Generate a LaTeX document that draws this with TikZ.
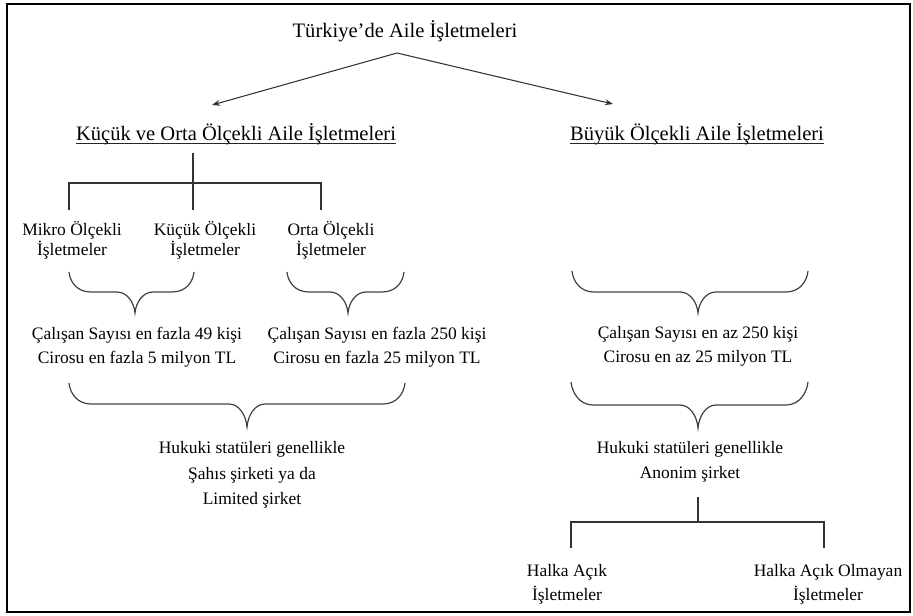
\documentclass[tikz,border=0pt]{standalone}
\usepackage{fontspec}
\setmainfont{LiberationSerif}[Extension=.ttf,UprightFont=*-Regular,BoldFont=*-Bold,ItalicFont=*-Italic,BoldItalicFont=*-BoldItalic]
\usetikzlibrary{arrows.meta}

\begin{document}
\begin{tikzpicture}[x=0.75pt,y=0.75pt,yscale=-1,xscale=1,
  ttl/.style={anchor=base,inner sep=0pt,font=\fontsize{15.4}{18}\selectfont},
  txt/.style={align=center,inner sep=0pt,font=\fontsize{13.1}{18}\selectfont},
  tight/.style={font=\fontsize{13.1}{15}\selectfont},
  loose/.style={font=\fontsize{13.1}{19}\selectfont},
  ln/.style={draw=black!80,line width=0.9pt},
  brc/.style={draw=black!75,line width=0.9pt},
  arr/.style={draw=black!80,line width=0.8pt,-{Stealth[length=6pt,width=4.5pt]}},
  ul/.style={draw=black!85,line width=1pt}]
\useasboundingbox (0,0) rectangle (913,615);

%Frame
\draw [line width=1.9pt] (7,4) rectangle (910,612);

% Text Node
\node[ttl] (title) at (405,37) {Türkiye’de Aile İşletmeleri};
% Text Node
\node[ttl] (hl) at (236,140) {Küçük ve Orta Ölçekli Aile İşletmeleri};
\draw[ul] ([yshift=2.4pt]hl.base west) -- ([yshift=2.4pt]hl.base east);
% Text Node
\node[ttl] (hr) at (697,140) {Büyük Ölçekli Aile İşletmeleri};
\draw[ul] ([yshift=2.4pt]hr.base west) -- ([yshift=2.4pt]hr.base east);

%Arrows
\coordinate (apex) at (397,53);
\coordinate (ltip) at (212,105);
\coordinate (rtip) at (613,104);
\draw[arr] (apex) -- (ltip);
\draw[arr] (apex) -- (rtip);

%Left tree
\coordinate (ltop) at (193,153);
\coordinate (lbar) at (193,183);
\coordinate (mdrop) at (69,210);
\coordinate (kdrop) at (193,210);
\coordinate (odrop) at (321,210);
\draw[ln] (ltop) -- (kdrop);
\draw[ln] (mdrop) |- (lbar) -| (odrop);

% Text Node
\node[txt,tight] (mikro) at (72,240) {Mikro Ölçekli\\İşletmeler};
\node[txt,tight] (kucuk) at (205,240) {Küçük Ölçekli\\İşletmeler};
\node[txt,tight] (orta) at (331,240) {Orta Ölçekli\\İşletmeler};

%Shape: Brace
\draw[brc] (69,272) .. controls (70,282) and (77,292) .. (91,292) -- (117,292) .. controls (127,292) and (134,302) .. (135,313) .. controls (136,302) and (143,292) .. (153,292) -- (172,292) .. controls (186,292) and (193,282) .. (194,272);
%Shape: Brace
\draw[brc] (287,272) .. controls (288,282) and (295,292) .. (309,292) -- (330,292) .. controls (340,292) and (347,302) .. (348,313) .. controls (349,302) and (356,292) .. (366,292) -- (382,292) .. controls (396,292) and (403,282) .. (404,272);

% Text Node
\node[txt] (ls1) at (137,347) {Çalışan Sayısı en fazla 49 kişi\\Cirosu en fazla 5 milyon TL};
\node[txt] (ls2) at (377,347) {Çalışan Sayısı en fazla 250 kişi\\Cirosu en fazla 25 milyon TL};

%Shape: Brace
\draw[brc] (69,383) .. controls (70,393) and (77,404) .. (91,404) -- (229,404) .. controls (239,404) and (246,415) .. (247,427) .. controls (248,415) and (255,404) .. (265,404) -- (383,404) .. controls (397,404) and (404,393) .. (405,383);

% Text Node
\node[txt,loose] (lhk) at (252,475) {Hukuki statüleri genellikle\\Şahıs şirketi ya da\\Limited şirket};

%Shape: Brace
\draw[brc] (572,271) .. controls (573,281) and (580,292) .. (594,292) -- (680,292) .. controls (690,292) and (697,302) .. (698,313) .. controls (699,302) and (706,292) .. (716,292) -- (786,292) .. controls (800,292) and (807,281) .. (808,271);

% Text Node
\node[txt] (rs) at (698,346) {Çalışan Sayısı en az 250 kişi\\Cirosu en az 25 milyon TL};

%Shape: Brace
\draw[brc] (571,382) .. controls (572,392) and (579,405) .. (593,405) -- (680,405) .. controls (690,405) and (697,416) .. (698,428) .. controls (699,416) and (706,405) .. (716,405) -- (786,405) .. controls (800,405) and (807,392) .. (808,382);

% Text Node
\node[txt,loose] (rhk) at (690,462) {Hukuki statüleri genellikle\\Anonim şirket};

%Right tree
\coordinate (rtop) at (698,497);
\coordinate (rbar) at (698,522);
\coordinate (hdrop) at (571,548);
\coordinate (hodrop) at (824,548);
\draw[ln] (rtop) -- (rbar);
\draw[ln] (hdrop) |- (rbar) -| (hodrop);

% Text Node
\node[txt] (halka) at (567,584) {Halka Açık\\İşletmeler};
\node[txt] (halkao) at (828,584) {Halka Açık Olmayan\\İşletmeler};

\end{tikzpicture}
\end{document}
